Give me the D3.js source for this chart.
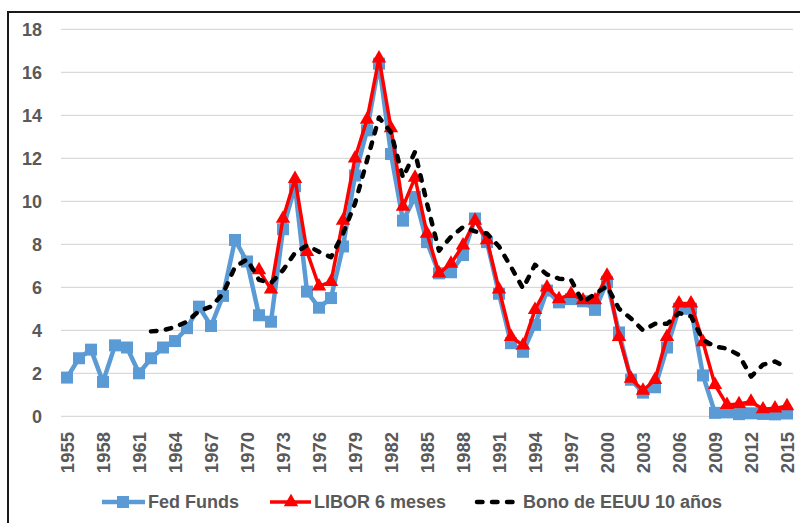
<!DOCTYPE html>
<html>
<head>
<meta charset="utf-8">
<script src="https://cdn.jsdelivr.net/npm/d3@7"></script>
<style>
  body { margin: 0; background: #fff; }
  svg text { font-family: "Liberation Sans", Arial, sans-serif; font-weight: bold; fill: #595959; }
</style>
</head>
<body>
<div id="chart"></div>
<script>
const years = d3.range(1955, 2016);
const yTicks = [0, 2, 4, 6, 8, 10, 12, 14, 16, 18];
const xTickYears = d3.range(1955, 2016, 3);

// Fed Funds 1955-2015
const fedFunds = [1.8, 2.7, 3.1, 1.6, 3.3, 3.2, 2.0, 2.7, 3.2, 3.5,
  4.1, 5.1, 4.2, 5.6, 8.2, 7.2, 4.7, 4.4, 8.7, 10.7,
  5.8, 5.05, 5.5, 7.9, 11.2, 13.3, 16.4, 12.2, 9.1, 10.2,
  8.1, 6.65, 6.7, 7.5, 9.2, 8.1, 5.7, 3.4, 3.0, 4.25,
  5.85, 5.3, 5.45, 5.35, 4.95, 6.25, 3.9, 1.7, 1.1, 1.35,
  3.2, 5.0, 5.0, 1.9, 0.16, 0.18, 0.1, 0.14, 0.11, 0.09, 0.13];

// LIBOR 6 meses 1971-2015
const libor = [6.8, 5.9, 9.2, 11.05, 7.65, 6.05, 6.25, 9.1, 12.0, 13.8,
  16.65, 13.4, 9.75, 11.1, 8.5, 6.65, 7.1, 7.95, 9.1, 8.2,
  5.9, 3.7, 3.3, 4.95, 6.0, 5.45, 5.7, 5.4, 5.4, 6.55,
  3.7, 1.75, 1.2, 1.7, 3.7, 5.25, 5.25, 3.45, 1.46, 0.53,
  0.57, 0.68, 0.33, 0.37, 0.48];

// Bono de EEUU 10 años 1962-2015
const bono = [3.95, 4.0, 4.15, 4.4, 4.9, 5.1, 5.7, 6.95, 7.3, 6.35,
  6.2, 6.8, 7.6, 7.95, 7.65, 7.4, 8.5, 9.9, 11.9, 13.9,
  13.2, 11.1, 12.3, 9.9, 7.7, 8.35, 8.8, 8.6, 8.5, 7.9,
  6.95, 5.95, 7.05, 6.6, 6.4, 6.35, 5.3, 5.7, 6.05, 5.0,
  4.55, 4.0, 4.3, 4.3, 4.8, 4.65, 3.55, 3.25, 3.15, 2.85,
  1.85, 2.4, 2.55, 2.25];

const seriesNames = ["Fed Funds", "LIBOR 6 meses", "Bono de EEUU 10 años"];

function toPoints(startYear, values) {
  return values.map((v, i) => ({ year: startYear + i, value: v }));
}
const fedData = toPoints(1955, fedFunds);
const liborData = toPoints(1971, libor);
const bonoData = toPoints(1962, bono);

const W = 800, H = 523;
const svg = d3.select("#chart").append("svg")
  .attr("width", W)
  .attr("height", H);

// outer frame (cut off on the right and bottom, like the reference)
svg.append("rect")
  .attr("x", 8).attr("y", 12)
  .attr("width", 820).attr("height", 540)
  .attr("fill", "none")
  .attr("stroke", "#1a1a1a")
  .attr("stroke-width", 2);

const x = d3.scalePoint()
  .domain(years)
  .range([61, 793])
  .padding(0.5);

const y = d3.scaleLinear()
  .domain([0, 18])
  .range([416.3, 29.3]);

// gridlines
svg.append("g")
  .selectAll("line")
  .data(yTicks)
  .enter().append("line")
  .attr("x1", 61).attr("x2", 793)
  .attr("y1", d => y(d)).attr("y2", d => y(d))
  .attr("stroke", "#d9d9d9")
  .attr("stroke-width", 1.3);

// y axis
const yAxis = svg.append("g")
  .attr("transform", "translate(42,0)")
  .call(d3.axisLeft(y).tickValues(yTicks).tickSize(0).tickPadding(0));
yAxis.select(".domain").remove();
yAxis.selectAll("text")
  .style("font-size", "18px")
  .attr("dy", "0.35em");

// x axis, rotated year labels
const xAxis = svg.append("g")
  .attr("transform", "translate(0,432)")
  .call(d3.axisBottom(x).tickValues(xTickYears).tickSize(0).tickPadding(0));
xAxis.select(".domain").remove();
xAxis.selectAll("text")
  .style("font-size", "18.5px")
  .attr("text-anchor", "end")
  .attr("x", 0)
  .attr("y", 0)
  .attr("dy", "0.36em")
  .attr("transform", "rotate(-90)");

const line = d3.line()
  .x(d => x(d.year))
  .y(d => y(d.value));

// Fed Funds
svg.append("path")
  .datum(fedData)
  .attr("fill", "none")
  .attr("stroke", "#5b9bd5")
  .attr("stroke-width", 4.5)
  .attr("stroke-linejoin", "round")
  .attr("d", line);
svg.append("g")
  .selectAll("rect")
  .data(fedData)
  .enter().append("rect")
  .attr("x", d => x(d.year) - 6)
  .attr("y", d => y(d.value) - 6)
  .attr("width", 12).attr("height", 12)
  .attr("fill", "#5b9bd5");

// LIBOR
const tri = d3.symbol().type(d3.symbolTriangle).size(90);
svg.append("path")
  .datum(liborData)
  .attr("fill", "none")
  .attr("stroke", "#ff0000")
  .attr("stroke-width", 3.5)
  .attr("stroke-linejoin", "round")
  .attr("d", line);
svg.append("g")
  .selectAll("path")
  .data(liborData)
  .enter().append("path")
  .attr("d", tri)
  .attr("transform", d => `translate(${x(d.year)},${y(d.value)})`)
  .attr("fill", "#ff0000");

// Bono
svg.append("path")
  .datum(bonoData)
  .attr("fill", "none")
  .attr("stroke", "#000")
  .attr("stroke-width", 4.5)
  .attr("stroke-dasharray", "5.5,9.5")
  .attr("stroke-linecap", "round")
  .attr("stroke-linejoin", "round")
  .attr("d", line);

// legend
const legY = 502;
const leg = svg.append("g");
leg.append("line").attr("x1", 102).attr("x2", 145).attr("y1", legY).attr("y2", legY)
  .attr("stroke", "#5b9bd5").attr("stroke-width", 4.5);
leg.append("rect").attr("x", 117).attr("y", legY - 6).attr("width", 12).attr("height", 12)
  .attr("fill", "#5b9bd5");
leg.append("line").attr("x1", 270).attr("x2", 311).attr("y1", legY).attr("y2", legY)
  .attr("stroke", "#ff0000").attr("stroke-width", 3.5);
leg.append("path").attr("d", tri).attr("transform", `translate(291,${legY})`)
  .attr("fill", "#ff0000");
leg.append("line").attr("x1", 477).attr("x2", 520).attr("y1", legY).attr("y2", legY)
  .attr("stroke", "#000").attr("stroke-width", 4.5)
  .attr("stroke-dasharray", "5.5,9.5").attr("stroke-linecap", "round");

const legX = [148, 314, 523];
leg.selectAll("text.lbl")
  .data(seriesNames)
  .enter().append("text")
  .attr("class", "lbl")
  .attr("x", (d, i) => legX[i])
  .attr("y", legY)
  .attr("dy", "0.35em")
  .style("font-size", "18px")
  .text(d => d);
</script>
</body>
</html>
